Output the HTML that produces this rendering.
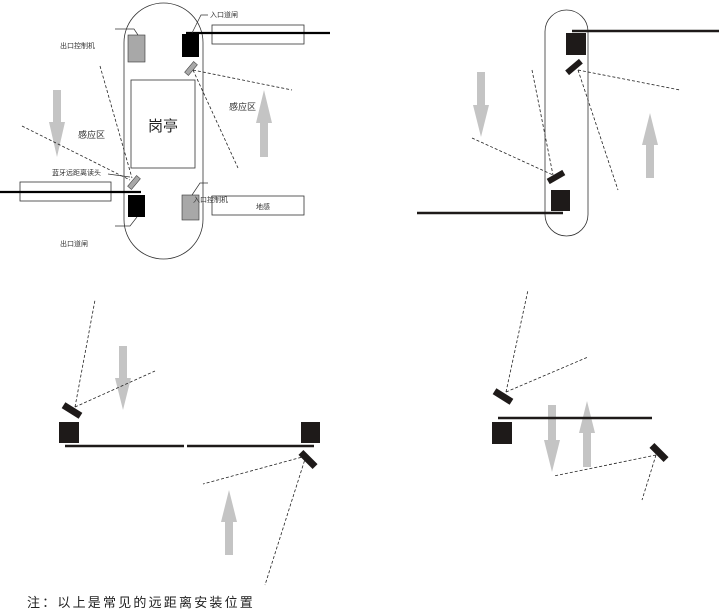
<!DOCTYPE html>
<html><head><meta charset="utf-8"><style>
html,body{margin:0;padding:0;background:#fff;}
svg{display:block;}
text{font-family:"Liberation Sans","Noto Sans CJK SC",sans-serif;}
</style></head><body>
<svg width="720" height="612" viewBox="0 0 720 612" xmlns="http://www.w3.org/2000/svg">
<g fill="#c4c4c4">
<!-- arrows: down -->
<polygon points="53,90 61,90 61,122 65,122 57,157 49,122 53,122"/>
<polygon points="477,72 485,72 485,105 489,105 481,137 473,105 477,105"/>
<polygon points="119,346 127,346 127,378 131,378 123,410 115,378 119,378"/>
<polygon points="548,405 556,405 556,440 560,440 552,472 544,440 548,440"/>
<!-- up -->
<polygon points="260,157 268,157 268,123 272,123 264,90 256,123 260,123"/>
<polygon points="646,178 654,178 654,145 658,145 650,113 642,145 646,145"/>
<polygon points="225,555 233,555 233,522 237,522 229,490 221,522 225,522"/>
<polygon points="583,467 591,467 591,433 595,433 587,401 579,433 583,433"/>
</g>
<g fill="none" stroke="#222" stroke-width="0.8" stroke-dasharray="3,2">
<line x1="193" y1="70" x2="292" y2="90"/>
<line x1="193" y1="70" x2="238" y2="168"/>
<line x1="100" y1="66" x2="132" y2="178"/>
<line x1="22" y1="126" x2="130" y2="180"/>
<line x1="578" y1="70" x2="680" y2="90"/>
<line x1="578" y1="70" x2="618" y2="190"/>
<line x1="532" y1="70" x2="553" y2="175"/>
<line x1="472" y1="138" x2="553" y2="175"/>
<line x1="75" y1="407" x2="95" y2="300"/>
<line x1="75" y1="407" x2="155" y2="371"/>
<line x1="306" y1="456" x2="203" y2="484"/>
<line x1="306" y1="456" x2="265" y2="585"/>
<line x1="506" y1="392" x2="528" y2="290"/>
<line x1="506" y1="392" x2="588" y2="357"/>
<line x1="656" y1="455" x2="554" y2="476"/>
<line x1="656" y1="455" x2="642" y2="500"/>
</g>
<!-- panel 1 -->
<rect x="124" y="3" width="79" height="256" rx="39.5" fill="none" stroke="#333" stroke-width="0.8"/>
<rect x="131" y="80" width="64" height="88" fill="#fff" stroke="#333" stroke-width="0.8"/>
<text x="163" y="131" font-size="15" text-anchor="middle" fill="#222">岗亭</text>
<rect x="212" y="25" width="92" height="19" fill="none" stroke="#333" stroke-width="0.8"/>
<rect x="20" y="182" width="91" height="19" fill="none" stroke="#333" stroke-width="0.8"/>
<rect x="212" y="196" width="92" height="19" fill="none" stroke="#333" stroke-width="0.8"/>
<rect x="128" y="35" width="17" height="27" fill="#a8a8a8" stroke="#333" stroke-width="0.6"/>
<rect x="182" y="34" width="17" height="23" fill="#000"/>
<rect x="128" y="195" width="17" height="22" fill="#000"/>
<rect x="182" y="195" width="17" height="25" fill="#a8a8a8" stroke="#333" stroke-width="0.6"/>
<line x1="186" y1="33" x2="330" y2="33" stroke="#000" stroke-width="2.2"/>
<line x1="0" y1="192" x2="141" y2="192" stroke="#000" stroke-width="2.2"/>
<rect x="184" y="66" width="14" height="5" fill="#a8a8a8" stroke="#333" stroke-width="0.5" transform="rotate(-50 191 68.5)"/>
<rect x="127" y="180" width="14" height="5" fill="#a8a8a8" stroke="#333" stroke-width="0.5" transform="rotate(-50 134 182.5)"/>
<g stroke="#333" stroke-width="0.7" fill="none">
<polyline points="115,29 134,29 138,35"/>
<polyline points="208,15 201,15 192,33"/>
<polyline points="115,226 130,226 137,217"/>
<polyline points="208,183 200,183 192,195"/>
<line x1="108" y1="174" x2="130" y2="177"/>
</g>
<g fill="#333" font-size="7">
<text x="210" y="17">入口道闸</text>
<text x="60" y="48">出口控制机</text>
<text x="193" y="202">入口控制机</text>
<text x="256" y="209">地感</text>
<text x="60" y="246">出口道闸</text>
<text x="52" y="175">蓝牙远距离读头</text>
</g>
<g fill="#333" font-size="9">
<text x="229" y="110">感应区</text>
<text x="78" y="138">感应区</text>
</g>
<!-- panel 2 -->
<rect x="545" y="10" width="43" height="226" rx="21.5" fill="none" stroke="#333" stroke-width="0.8"/>
<rect x="566" y="33" width="20" height="22" fill="#1e1a19"/>
<rect x="551" y="190" width="19" height="21" fill="#1e1a19"/>
<line x1="572" y1="31" x2="719" y2="31" stroke="#1e1a19" stroke-width="2.5"/>
<line x1="417" y1="213" x2="563" y2="213" stroke="#1e1a19" stroke-width="2.5"/>
<rect x="565" y="64" width="18" height="6" fill="#1e1a19" transform="rotate(-40 574 67)"/>
<rect x="547" y="174" width="18" height="6" fill="#1e1a19" transform="rotate(-30 556 177)"/>
<!-- panel 3 -->
<rect x="59" y="422" width="20" height="21" fill="#1e1a19"/>
<rect x="301" y="422" width="19" height="21" fill="#1e1a19"/>
<line x1="65" y1="446" x2="184" y2="446" stroke="#1e1a19" stroke-width="2.5"/>
<line x1="187" y1="446" x2="314" y2="446" stroke="#1e1a19" stroke-width="2.5"/>
<rect x="62" y="407" width="20" height="7" fill="#1e1a19" transform="rotate(32 72 410.5)"/>
<rect x="298" y="456" width="20" height="7" fill="#1e1a19" transform="rotate(45 308 459.5)"/>
<!-- panel 4 -->
<line x1="498" y1="418" x2="652" y2="418" stroke="#1e1a19" stroke-width="2.5"/>
<rect x="492" y="422" width="20" height="22" fill="#1e1a19"/>
<rect x="493" y="393" width="20" height="7" fill="#1e1a19" transform="rotate(32 503 396.5)"/>
<rect x="649" y="449" width="20" height="7" fill="#1e1a19" transform="rotate(45 659 452.5)"/>
<text x="27" y="607" font-size="13" letter-spacing="2.2" fill="#222">注：以上是常见的远距离安装位置</text>
</svg>
</body></html>
